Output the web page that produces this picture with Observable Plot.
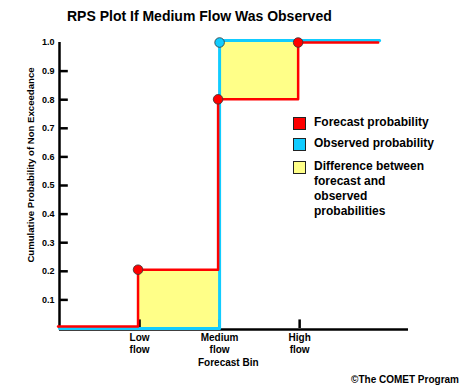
<!DOCTYPE html>
<html>
<head>
<meta charset="utf-8">
<script src="https://cdn.jsdelivr.net/npm/d3@7"></script>
<script src="https://cdn.jsdelivr.net/npm/@observablehq/plot@0.6"></script>
<style>
  html, body { margin: 0; padding: 0; background: #fff; }
  #wrap { position: relative; width: 475px; height: 391px; font-family: "Liberation Sans", Arial, sans-serif; font-weight: bold; color: #000; }
  #wrap svg { position: absolute; left: 0; top: 0; }
  .abs { position: absolute; white-space: nowrap; }
  .sw { position: absolute; width: 11px; height: 11px; border: 1px solid #222; }
  .lg { position: absolute; font-size: 12px; line-height: 15px; }
</style>
</head>
<body>
<div id="wrap"></div>
<script>
// ---- data ----
const binPos = [0, 1, 2, 3, 4];                 // bin edges (before low ... after high)
const binLabels = ["Low\nflow", "Medium\nflow", "High\nflow"];
const binTicks = [1, 2, 3];
const forecastCum = [0, 0.2, 0.8, 1.0, 1.0];     // cumulative forecast probability
const observedCum = [0, 0, 1.0, 1.0, 1.0];       // cumulative observed probability
const yTicks = [0.1, 0.2, 0.3, 0.4, 0.5, 0.6, 0.7, 0.8, 0.9];
const yLabels = [0.1, 0.2, 0.3, 0.4, 0.5, 0.6, 0.7, 0.8, 0.9, 1.0];
const forecastDots = [1, 2, 3];                  // indices of plotted forecast points
const observedDots = [2];

const title = "RPS Plot If Medium Flow Was Observed";
const yTitle = "Cumulative Probability of Non Exceedance";
const xTitle = "Forecast Bin";
const caption = "©The COMET Program";
const legendItems = [
  {label: "Forecast probability", color: "#ff0000"},
  {label: "Observed probability", color: "#11ccff"},
  {label: "Difference between\nforecast and\nobserved\nprobabilities", color: "#ffff88"}
];

const RED = "#ff0000", CYAN = "#11ccff", YELLOW = "#ffff88";

const rows = binPos.map((x, i) => ({x, f: forecastCum[i], o: observedCum[i]}));

// small visual separation so overlapping red / cyan steps both stay visible
const SEP = 0.007;
const redY = d => SEP + d.f * (1 - SEP);
const cyanY = d => d.o * (1 + SEP);

const chart = Plot.plot({
  width: 475,
  height: 391,
  marginLeft: 59,
  marginRight: 67,
  marginTop: 42,
  marginBottom: 63,
  x: {domain: [0, 4.36], axis: null},
  y: {domain: [0, 1], axis: null},
  style: {fontFamily: "Liberation Sans, Arial, sans-serif", fontWeight: "bold", background: "transparent", overflow: "visible"},
  marks: [
    Plot.areaY(rows, {x: "x", y1: "o", y2: "f", curve: "step-after", fill: YELLOW}),
    // axes lines
    Plot.ruleY([0], {x1: 0, x2: 4.36, stroke: "#000", strokeWidth: 2.5, dy: 1}),
    Plot.ruleX([0], {y1: 0, y2: 1, stroke: "#000", strokeWidth: 2.5}),
    // y ticks (inward)
    Plot.ruleY(yTicks, {x1: 0, x2: 0.11, stroke: "#000", strokeWidth: 2.5}),
    // x ticks (inward)
    Plot.ruleX(binTicks, {y1: 0, y2: 0.03, stroke: "#000", strokeWidth: 2.5}),
    Plot.text(yLabels, {x: 0, y: d => d, text: d => d.toFixed(1), textAnchor: "end", dx: -5, fontSize: 9, fill: "#000"}),
    Plot.text(binTicks, {x: d => d, y: 0, text: (d, i) => binLabels[i], lineAnchor: "top", dy: 4, fontSize: 10, lineHeight: 1.2, fill: "#000"}),
    // step lines
    Plot.line(rows, {x: "x", y: cyanY, curve: "step-after", stroke: CYAN, strokeWidth: 3}),
    Plot.line(rows, {x: "x", y: redY, curve: "step-after", stroke: RED, strokeWidth: 2.5, dx: -1.5}),
    // points
    Plot.dot(forecastDots.map(i => rows[i]), {x: "x", y: redY, r: 4.8, fill: RED, stroke: "#333", strokeWidth: 0.8, dx: -1.5}),
    Plot.dot(observedDots.map(i => rows[i]), {x: "x", y: "o", r: 4.8, fill: CYAN, stroke: "#333", strokeWidth: 0.8})
  ]
});

const wrap = document.getElementById("wrap");
wrap.appendChild(chart);

function addText(txt, css) {
  const d = document.createElement("div");
  d.className = "abs";
  d.textContent = txt;
  Object.assign(d.style, css);
  wrap.appendChild(d);
  return d;
}

addText(title, {left: "67px", top: "8px", fontSize: "14px"});
addText(xTitle, {left: "198px", top: "357px", fontSize: "10px"});
addText(caption, {right: "16px", top: "374px", fontSize: "10px"});
addText(yTitle, {left: "30px", top: "165px", fontSize: "9.6px", transform: "translate(-50%, -50%) rotate(-90deg)"});

// legend
const rowTops = [117, 138, 161];
legendItems.forEach((it, i) => {
  const sw = document.createElement("div");
  sw.className = "sw";
  sw.style.left = "293px";
  sw.style.top = rowTops[i] + "px";
  sw.style.background = it.color;
  wrap.appendChild(sw);
  const t = document.createElement("div");
  t.className = "lg";
  t.style.left = "314px";
  t.style.top = (rowTops[i] - 2) + "px";
  t.style.whiteSpace = "pre";
  t.textContent = it.label;
  wrap.appendChild(t);
});
</script>
</body>
</html>
